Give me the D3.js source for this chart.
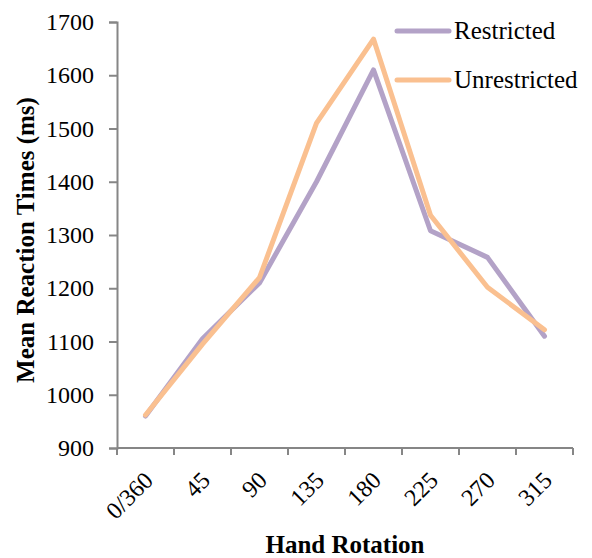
<!DOCTYPE html>
<html>
<head>
<meta charset="utf-8">
<script src="https://cdn.jsdelivr.net/npm/d3@7"></script>
<style>
  body { margin: 0; background: #fff; }
  svg text { font-family: "Liberation Serif", "DejaVu Serif", serif; fill: #000; }
</style>
</head>
<body>
<div id="chart"></div>
<script>
var rotations = ["0/360", "45", "90", "135", "180", "225", "270", "315"];
var restricted = [960, 1105, 1210, 1400, 1610, 1308, 1258, 1110];
var unrestricted = [962, 1095, 1220, 1510, 1668, 1337, 1202, 1122];
var yTicks = [900, 1000, 1100, 1200, 1300, 1400, 1500, 1600, 1700];

var svgWidth = 592;
var svgHeight = 558;
var margin = { top: 22, right: 19, bottom: 110, left: 117 };
var width = svgWidth - margin.left - margin.right;
var height = svgHeight - margin.top - margin.bottom;

var svg = d3.select("#chart")
  .append("svg")
  .attr("width", svgWidth)
  .attr("height", svgHeight);

var chartGroup = svg.append("g")
  .attr("transform", `translate(${margin.left}, ${margin.top})`);

var xScale = d3.scaleBand()
  .domain(rotations)
  .range([0, width]);

var yScale = d3.scaleLinear()
  .domain([900, 1700])
  .range([height, 0]);

// y axis
var yAxis = chartGroup.append("g")
  .call(d3.axisLeft(yScale).tickValues(yTicks).tickSize(8).tickPadding(15).tickFormat(d3.format("d")));
yAxis.selectAll("text").attr("font-size", 24).style("font-family", "Liberation Serif");
yAxis.select(".domain").attr("stroke", "#868686").attr("stroke-width", 2);
yAxis.selectAll(".tick line").attr("stroke", "#868686").attr("stroke-width", 2);

// x axis, ticks on the band edges
var xAxis = chartGroup.append("g")
  .attr("transform", `translate(0, ${height})`);
xAxis.append("line")
  .attr("x1", 0).attr("x2", width)
  .attr("stroke", "#868686").attr("stroke-width", 2);
xAxis.selectAll(".edge")
  .data(rotations.concat(["end"]))
  .enter()
  .append("line")
  .attr("class", "edge")
  .attr("x1", (d, i) => i < rotations.length ? xScale(d) : width)
  .attr("x2", (d, i) => i < rotations.length ? xScale(d) : width)
  .attr("y1", 0).attr("y2", 7)
  .attr("stroke", "#868686").attr("stroke-width", 2);
xAxis.selectAll(".lbl")
  .data(rotations)
  .enter()
  .append("text")
  .attr("class", "lbl")
  .attr("transform", d => `translate(${xScale(d) + xScale.bandwidth() / 2 - 3}, 22) rotate(-45)`)
  .attr("text-anchor", "end")
  .attr("dy", "0.7em")
  .attr("font-size", 24)
  .text(d => d);

// lines
var line = d3.line()
  .x((d, i) => xScale(rotations[i]) + xScale.bandwidth() / 2)
  .y(d => yScale(d));

var series = [
  { name: "Restricted", values: restricted, color: "#b3a2c7" },
  { name: "Unrestricted", values: unrestricted, color: "#fac090" }
];

chartGroup.selectAll(".series")
  .data(series)
  .enter()
  .append("path")
  .attr("class", "series")
  .attr("d", d => line(d.values))
  .attr("fill", "none")
  .attr("stroke", d => d.color)
  .attr("stroke-width", 5)
  .attr("stroke-linecap", "round")
  .attr("stroke-linejoin", "round");

// legend
var legend = svg.append("g").selectAll("g")
  .data(series)
  .enter()
  .append("g")
  .attr("transform", (d, i) => `translate(397, ${31 + i * 49})`);
legend.append("line")
  .attr("x1", 0).attr("x2", 52)
  .attr("stroke", d => d.color)
  .attr("stroke-width", 5)
  .attr("stroke-linecap", "round");
legend.append("text")
  .attr("x", 57)
  .attr("dy", "0.33em")
  .attr("font-size", 25)
  .text(d => d.name);

// axis titles
svg.append("text")
  .attr("x", margin.left + width / 2)
  .attr("y", 553)
  .attr("text-anchor", "middle")
  .attr("font-size", 25)
  .attr("font-weight", "bold")
  .text("Hand Rotation");

svg.append("text")
  .attr("transform", `translate(34, ${margin.top + height / 2 + 5}) rotate(-90)`)
  .attr("text-anchor", "middle")
  .attr("font-size", 25)
  .attr("font-weight", "bold")
  .text("Mean Reaction Times (ms)");
</script>
</body>
</html>
